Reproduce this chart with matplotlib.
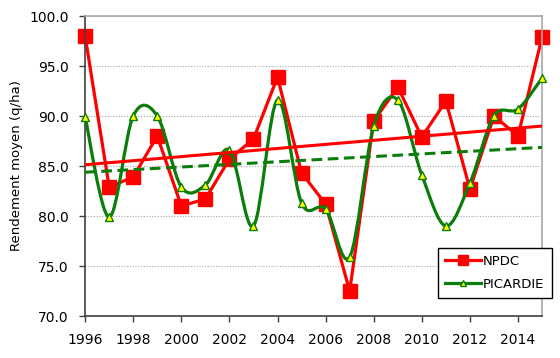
import numpy as np
import matplotlib
matplotlib.use("Agg")
import matplotlib.pyplot as plt
from matplotlib.path import Path
from matplotlib.patches import PathPatch
from matplotlib.lines import Line2D

years = np.arange(1996, 2016)
npdc = [98.0, 82.9, 83.9, 88.0, 81.0, 81.7, 85.7, 87.7, 93.9, 84.3,
        81.2, 72.5, 89.5, 92.9, 87.9, 91.5, 82.7, 90.0, 88.0, 97.9]
picardie = [89.9, 79.9, 90.0, 90.0, 82.9, 83.1, 86.6, 79.0, 91.6, 81.3,
            80.7, 75.9, 89.0, 91.6, 84.1, 79.0, 83.3, 90.0, 90.7, 93.8]

RED = "#ff0000"
GREEN = "#0a7d0a"


def smooth_path(x, y):
    """Excel-like smoothed line: cubic Bezier through every point."""
    pts = np.column_stack([x, y]).astype(float)
    verts = [pts[0]]
    codes = [Path.MOVETO]
    n = len(pts)
    for i in range(n - 1):
        p0 = pts[i - 1] if i > 0 else pts[i]
        p1 = pts[i]
        p2 = pts[i + 1]
        p3 = pts[i + 2] if i + 2 < n else pts[i + 1]
        verts += [p1 + (p2 - p0) / 6.0, p2 - (p3 - p1) / 6.0, p2]
        codes += [Path.CURVE4] * 3
    return Path(verts, codes)


fig = plt.figure(figsize=(5.6, 3.58), dpi=100)
ax = fig.add_axes([0.152, 0.1173, 0.816, 0.838])

# NPDC: straight segments with square markers
ax.plot(years, npdc, color=RED, linewidth=2.3, marker="s", markersize=10,
        solid_joinstyle="round", zorder=2, clip_on=False)

# PICARDIE: smoothed curve with yellow triangles
ax.add_patch(PathPatch(smooth_path(years, picardie), fill=False,
                       edgecolor=GREEN, linewidth=2.3, zorder=3,
                       capstyle="round", joinstyle="round"))
ax.plot(years, picardie, linestyle="none", marker="^", markersize=5.5,
        markerfacecolor="#ffff00", markeredgecolor=GREEN,
        markeredgewidth=1.0, zorder=3, clip_on=False)

# linear trend lines
for vals, color, ls in [(npdc, RED, "-"), (picardie, GREEN, (0, (3.5, 1.8)))]:
    a, b = np.polyfit(years, vals, 1)
    ax.plot(years, a * years + b, color=color, linestyle=ls,
            linewidth=2.2, zorder=4)

ax.set_xlim(1996, 2015)
ax.set_ylim(70, 100)
ax.set_xticks(np.arange(1996, 2015, 2))
ax.set_yticks(np.arange(70, 100.1, 5))
ax.set_yticklabels([f"{v:.1f}" for v in np.arange(70, 100.1, 5)])
ax.tick_params(labelsize=10, length=4, width=1, color="#404040")
ax.tick_params(axis="x", pad=8)
ax.tick_params(axis="y", pad=8)
ax.yaxis.grid(True, color="#a8a8a8", linestyle=(0, (1, 1.5)), linewidth=0.8)
ax.set_axisbelow(True)

for side in ["top", "right"]:
    ax.spines[side].set_color("#a8a8a8")
    ax.spines[side].set_linewidth(1.2)
for side in ["left", "bottom"]:
    ax.spines[side].set_color("#404040")
    ax.spines[side].set_linewidth(1.2)

ax.set_ylabel("Rendement moyen (q/ha)", fontsize=9.5, labelpad=4)

handles = [
    Line2D([], [], color=RED, linewidth=2.3, marker="s", markersize=7),
    Line2D([], [], color=GREEN, linewidth=2.3, marker="^", markersize=5,
           markerfacecolor="#ffff00", markeredgecolor=GREEN),
]
leg = ax.legend(handles, ["NPDC", "PICARDIE"], loc="lower left",
                bbox_to_anchor=(0.7725, 0.06), borderaxespad=0,
                fontsize=9.5, fancybox=False,
                edgecolor="black", framealpha=1, handlelength=2.7,
                handletextpad=0.15, borderpad=0.55, labelspacing=0.75,
                numpoints=1)
leg.get_frame().set_linewidth(1.0)
leg.set_zorder(5)

fig.savefig("out.png", dpi=100)
